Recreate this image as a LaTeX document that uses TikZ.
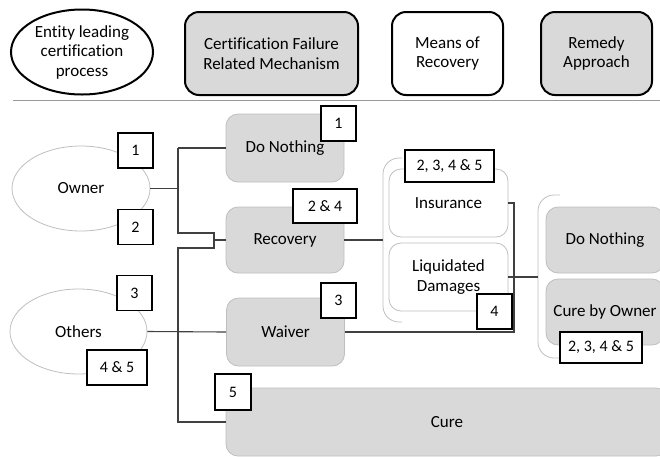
\documentclass[tikz,border=0pt]{standalone}
\usepackage{fontspec}
\setmainfont{Carlito}[Ligatures={NoCommon}]
\usetikzlibrary{shapes.geometric}
\definecolor{boxgray}{HTML}{D9D9D9}
\definecolor{edgegray}{HTML}{BFBFBF}
\definecolor{wiregray}{HTML}{404040}
\begin{document}
\begin{tikzpicture}[x=1pt, y=-1pt,
    every node/.style={inner sep=0pt, align=center, font=\fontsize{17}{19.5}\selectfont},
    headbox/.style={draw=black, line width=2pt, rounded corners=14pt, minimum width=111pt, minimum height=83pt},
    party/.style={ellipse, draw=edgegray, line width=0.8pt, fill=white, minimum width=138pt, minimum height=85pt},
    mech/.style={draw=edgegray, line width=0.8pt, fill=boxgray, rounded corners=12pt, minimum width=118pt, minimum height=67pt},
    means/.style={draw=edgegray, line width=0.8pt, fill=white, rounded corners=12pt, minimum width=119pt, minimum height=68pt},
    tag/.style={draw=black, line width=1.2pt, fill=white, minimum width=35pt, minimum height=35pt, font=\fontsize{16}{16}\selectfont},
    wire/.style={draw=wiregray, line width=1.1pt},
    brace/.style={draw=edgegray, line width=0.8pt, rounded corners=16pt}]
\useasboundingbox (0,0) rectangle (660,456);
% header row
\node[ellipse, draw=black, line width=2pt, minimum width=142pt, minimum height=85pt] (entity) at (82,52) {Entity leading\\certification\\process};
\node[headbox, fill=boxgray, minimum width=173pt] (failhead) at (271.5,53.5) {Certification Failure\\Related Mechanism};
\node[headbox, fill=white] (meanshead) at (447.5,53.5) {Means of\\Recovery};
\node[headbox, fill=boxgray] (remedyhead) at (596.5,53.5) {Remedy\\Approach};
\draw[edgegray!80!black, line width=0.9pt] (13,100.5) -- (660,100.5);
% brackets
\draw[brace] (402,158) -- (383,158) -- (383,322) -- (402,322);
\draw[brace] (560,195) -- (538,195) -- (538,358) -- (560,358);
% parties
\node[party] (owner) at (81,188.5) {Owner};
\node[party, minimum width=137pt] (others) at (78.5,331.5) {Others};
% mechanisms
\node[mech, minimum height=68pt] (nothing) at (285,148) {Do Nothing};
\node[mech, minimum height=66pt] (recovery) at (285,240) {Recovery};
\node[mech, minimum height=68pt] (waiver) at (285.5,332) {Waiver};
\node[mech, minimum width=442pt, minimum height=68pt] (cure) at (447,422) {Cure};
% means of recovery
\node[means] (insurance) at (448.5,203) {Insurance};
\node[means] (damages) at (448.5,277) {Liquidated\\Damages};
% remedies
\node[mech, minimum height=66pt] (rnothing) at (605,240) {Do Nothing};
\node[mech, minimum height=66pt] (ownercure) at (605,312) {Cure by Owner};
% connectors
\coordinate (trunk) at (178,188.5);
\coordinate (split) at (214,240);
\draw[wire] (owner.east) -- (trunk);
\draw[wire] (trunk |- nothing.west) -- (nothing.west);
\draw[wire] (trunk |- nothing.west) -- (178,233) -- (214,233) -- (214,248) -- (178,248) -- (178,422) -- (cure.west);
\draw[wire] (split) -- (recovery.west);
\draw[wire] (others.east) -- (waiver.west);
\draw[wire] (recovery.east) -- (383,240);
\draw[wire] (waiver.east) -- (514,332) -- (514,203) -- (insurance.east);
\draw[wire] (damages.east) -- (538,277);
% tags
\node[tag] (t1owner) at (135.5,150.5) {1};
\node[tag] (t2owner) at (135.5,227) {2};
\node[tag] (t3others) at (134.5,293) {3};
\node[tag, minimum width=60pt] (t45others) at (117,367.5) {4 \& 5};
\node[tag] (t1nothing) at (338.5,123.5) {1};
\node[tag, minimum width=64pt, minimum height=34pt] (t24recovery) at (325,206) {2 \& 4};
\node[tag] (t3waiver) at (338.5,300.5) {3};
\node[tag, minimum width=36pt, minimum height=36pt] (t5cure) at (233,392) {5};
\node[tag, minimum width=89pt, minimum height=32pt] (t2345means) at (449.5,166) {2, 3, 4 \& 5};
\node[tag] (t4damages) at (494.5,311.5) {4};
\node[tag, minimum width=82pt, minimum height=31pt] (t2345remedy) at (601,347.5) {2, 3, 4 \& 5};
\end{tikzpicture}
\end{document}
